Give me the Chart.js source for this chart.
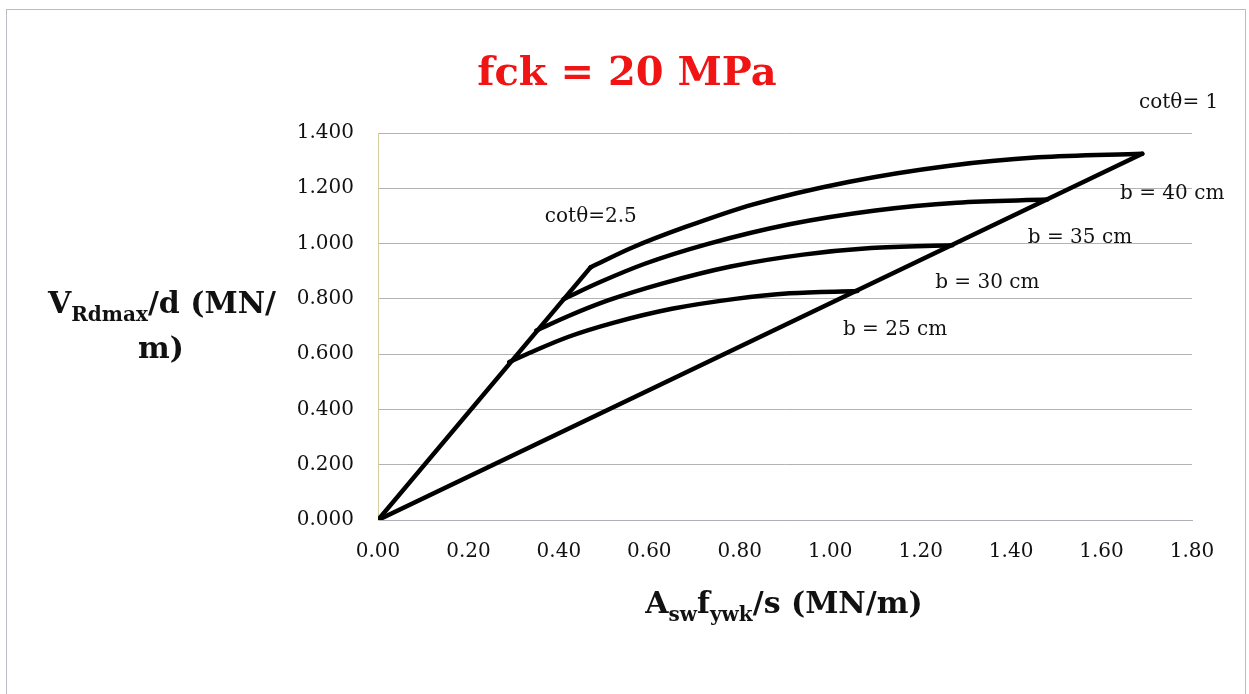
<!DOCTYPE html>
<html>
<head>
<meta charset="utf-8">
<title>fck = 20 MPa</title>
<script src="https://cdn.jsdelivr.net/npm/chart.js@4.4.1/dist/chart.umd.min.js"></script>
<style>
  html, body { margin: 0; padding: 0; background: #fff; }
  #wrap { width: 1249px; height: 694px; position: relative; }
</style>
</head>
<body>
<div id="wrap"><canvas id="vrdChart"></canvas></div>
<script>
// axis ranges
const xMin = 0, xMax = 1.8, xStep = 0.2;
const yMin = 0, yMax = 1.4, yStep = 0.2;

// straight limits from the origin
const cot25X = [0, 0.47];
const cot25Y = [0, 0.914];
const cot1X = [0, 1.69];
const cot1Y = [0, 1.325];

// V_Rd,max/d curves per web width, from cotθ=2.5 to cotθ=1
const b40X = [0.47, 0.56, 0.68, 0.83, 1.04, 1.26, 1.46, 1.69];
const b40Y = [0.914, 0.984, 1.060, 1.142, 1.223, 1.281, 1.312, 1.325];
const b35X = [0.41, 0.49, 0.59, 0.73, 0.91, 1.10, 1.28, 1.48];
const b35Y = [0.799, 0.860, 0.927, 0.999, 1.070, 1.120, 1.148, 1.159];
const b30X = [0.35, 0.42, 0.51, 0.63, 0.78, 0.94, 1.09, 1.27];
const b30Y = [0.685, 0.737, 0.795, 0.856, 0.917, 0.960, 0.984, 0.994];
const b25X = [0.29, 0.35, 0.42, 0.52, 0.65, 0.79, 0.91, 1.06];
const b25Y = [0.571, 0.615, 0.662, 0.713, 0.764, 0.800, 0.820, 0.828];

// labels written on the plot, anchored in data units
const noteText = ['cotθ= 1', 'cotθ=2.5', 'b = 40 cm', 'b = 35 cm', 'b = 30 cm', 'b = 25 cm'];
const noteX = [1.683, 0.369, 1.641, 1.437, 1.232, 1.028];
const noteY = [1.509, 1.097, 1.180, 1.020, 0.858, 0.688];

const titleText = 'fck = 20 MPa';

function pts(xs, ys) {
  return xs.map((x, i) => ({ x: x, y: ys[i] }));
}

function series(xs, ys, curved) {
  return {
    data: pts(xs, ys),
    showLine: true,
    borderColor: '#000',
    borderWidth: 4.5,
    pointRadius: 0,
    cubicInterpolationMode: curved ? 'monotone' : 'default',
    borderCapStyle: 'round',
    borderJoinStyle: 'round'
  };
}

// text pieces with subscripts, centred on cx
function drawRich(ctx, parts, cx, baseline, size, subSize) {
  const mainFont = 'bold ' + size + 'px "DejaVu Serif"';
  const subFont = 'bold ' + subSize + 'px "DejaVu Serif"';
  let total = 0;
  parts.forEach(p => {
    ctx.font = p.sub ? subFont : mainFont;
    total += ctx.measureText(p.t).width;
  });
  let x = cx - total / 2;
  ctx.textAlign = 'left';
  ctx.textBaseline = 'alphabetic';
  parts.forEach(p => {
    ctx.font = p.sub ? subFont : mainFont;
    ctx.fillText(p.t, x, baseline + (p.sub ? Math.round(size * 0.25) : 0));
    x += ctx.measureText(p.t).width;
  });
}

const chartText = {
  id: 'chartText',
  afterDraw(chart) {
    const ctx = chart.ctx;
    const xs = chart.scales.x, ys = chart.scales.y;
    ctx.save();

    // frame
    ctx.strokeStyle = '#b9bcc4';
    ctx.lineWidth = 1;
    ctx.strokeRect(6.5, 9.5, 1239, 700);

    // title
    ctx.fillStyle = '#f01414';
    ctx.font = 'bold 40px "DejaVu Serif"';
    ctx.textAlign = 'center';
    ctx.textBaseline = 'alphabetic';
    ctx.fillText(titleText, 627, 85);

    // notes
    ctx.fillStyle = '#111';
    ctx.font = '20px "DejaVu Serif"';
    ctx.textAlign = 'left';
    ctx.textBaseline = 'middle';
    noteText.forEach((t, i) => {
      ctx.fillText(t, xs.getPixelForValue(noteX[i]), ys.getPixelForValue(noteY[i]));
    });

    // axis titles
    ctx.fillStyle = '#111';
    drawRich(ctx, [
      { t: 'V' }, { t: 'Rdmax', sub: true }, { t: '/d (MN/' }
    ], 162, 313, 30, 20);
    drawRich(ctx, [{ t: 'm)' }], 161, 358, 30, 20);
    drawRich(ctx, [
      { t: 'A' }, { t: 'sw', sub: true }, { t: 'f' }, { t: 'ywk', sub: true }, { t: '/s (MN/m)' }
    ], 784, 613, 30, 20);

    ctx.restore();
  }
};

const ctx = document.getElementById('vrdChart').getContext('2d');
const vrdChart = new Chart(ctx, {
  type: 'scatter',
  data: {
    datasets: [
      series(cot25X, cot25Y, false),
      series(cot1X, cot1Y, false),
      series(b40X, b40Y, true),
      series(b35X, b35Y, true),
      series(b30X, b30Y, true),
      series(b25X, b25Y, true)
    ]
  },
  options: {
    responsive: true,
    maintainAspectRatio: false,
    animation: false,
    layout: { padding: { top: 133, right: 57, left: 0, bottom: 0 } },
    plugins: {
      legend: { display: false },
      title: { display: false },
      tooltip: { enabled: false }
    },
    scales: {
      x: {
        type: 'linear',
        min: xMin, max: xMax,
        afterFit(scale) { scale.height = 174; },
        ticks: {
          stepSize: xStep,
          padding: 20,
          color: '#111',
          font: { family: 'DejaVu Serif', size: 20 },
          callback: v => v.toFixed(2)
        },
        grid: { display: false, drawTicks: false },
        border: { display: true, color: '#aeb0b8', width: 1 }
      },
      y: {
        type: 'linear',
        min: yMin, max: yMax,
        afterFit(scale) { scale.width = 378; },
        ticks: {
          stepSize: yStep,
          padding: 24,
          color: '#111',
          font: { family: 'DejaVu Serif', size: 20 },
          callback: v => v.toFixed(3)
        },
        grid: { color: '#b3b3b3', lineWidth: 1, drawTicks: false },
        border: { display: true, color: '#d2cf9c', width: 1 }
      }
    }
  },
  plugins: [chartText]
});
</script>
</body>
</html>
